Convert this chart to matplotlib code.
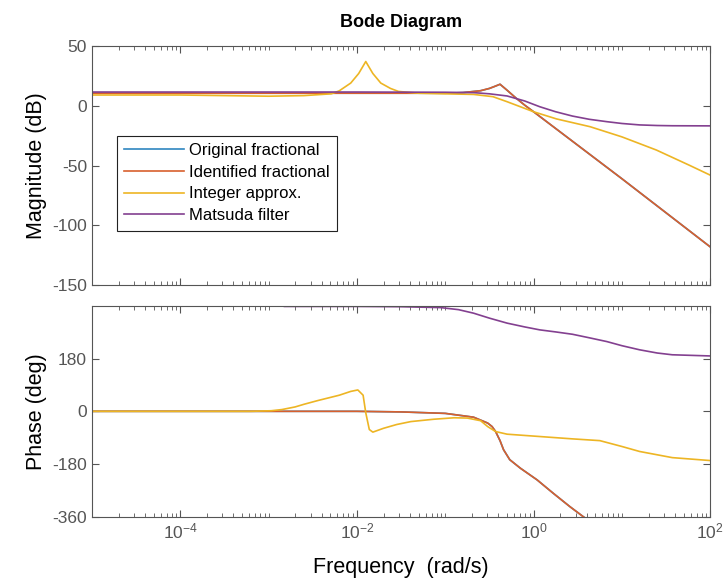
import numpy as np
import matplotlib
matplotlib.use("Agg")
from matplotlib import pyplot as plt
from matplotlib.ticker import LogLocator, NullFormatter, FixedLocator

plt.rcParams['font.family'] = ['Liberation Sans', 'DejaVu Sans']
plt.rcParams['mathtext.default'] = 'regular'
plt.rcParams['axes.unicode_minus'] = False

# frequency points as log10(rad/s), magnitude in dB, phase in deg
# original and identified fractional models lie on top of each other
frac_mag_w = [-5, -3, -2, -1, -0.8, -0.6, -0.5, -0.43, -0.38, -0.3, -0.2, -0.1, 0, 0.5, 1, 1.5, 2]
frac_mag = [10.5, 10.5, 10.5, 10.5, 11, 12.6, 14.5, 16.5, 18, 13, 6.5, 0.5, -5, -33, -61, -89.5, -118]

int_mag_w = [-5, -4, -3.5, -3, -2.6, -2.29, -2.2, -2.07, -1.98, -1.94, -1.9, -1.86, -1.82,
             -1.73, -1.62, -1.53, -1.3, -1.0, -0.68, -0.46, -0.3, 0, 0.26, 0.64, 1.0, 1.39, 1.76, 2.0]
int_mag = [9, 9, 8.5, 8, 8.5, 10, 12.5, 19, 27, 32, 37, 32, 27,
           19, 14.5, 12, 10.5, 10, 9.5, 7.6, 3.4, -5, -11, -17.5, -26, -37, -49.6, -58]

mats_mag_w = [-5, -2, -1, -0.68, -0.5, -0.3, -0.1, 0.07, 0.25, 0.44, 0.63, 0.83, 1.0, 1.2, 1.4, 1.57, 2]
mats_mag = [11.5, 11.5, 11.3, 11, 10, 8.2, 4, -0.8, -5, -8.6, -11.3, -13.3, -14.8, -16, -16.5, -16.7, -16.8]

frac_ph_w = [-5, -2, -1.5, -1, -0.68, -0.52, -0.47, -0.43, -0.38, -0.34, -0.27, -0.15,
             0.04, 0.22, 0.41, 0.56, 0.8, 2]
frac_ph = [0, 0, -2, -7, -20, -40, -52, -69, -100, -131, -165, -194,
           -234, -279, -325, -359, -410, -520]

int_ph_w = [-5, -3.2, -2.97, -2.85, -2.7, -2.6, -2.44, -2.2, -2.07, -1.99, -1.93, -1.9, -1.86, -1.82,
            -1.7, -1.55, -1.39, -1.13, -0.9, -0.75, -0.6, -0.52, -0.43, -0.3, 0.07, 0.44,
            0.75, 1.0, 1.2, 1.57, 2.0]
int_ph = [0, 0, 2, 6, 15, 24, 37, 55, 68, 73, 55, -5, -62, -71,
          -58, -45, -35, -27, -22, -23, -32, -52, -69, -78, -86, -94,
          -100, -120, -137, -158, -168]

mats_ph_w = [-2.82, -2, -1.5, -1.05, -0.85, -0.68, -0.5, -0.3, -0.1, 0.07, 0.25, 0.44, 0.63,
             0.83, 1.0, 1.2, 1.4, 1.57, 2.0]
mats_ph = [358, 358, 357, 354, 347, 335, 318, 301, 288, 278, 271, 263, 251,
           238, 224, 210, 199, 193, 189]

labels = ['Original fractional', 'Identified fractional', 'Integer approx.', 'Matsuda filter']
colors = ['#2f86c0', '#d8602e', '#edb524', '#834090']

mag_ticks = [-150, -100, -50, 0, 50]
ph_ticks = [-360, -180, 0, 180]


def w(exps):
    return 10.0 ** np.array(exps)


fig = plt.figure(figsize=(7.24, 5.82), dpi=100)
ax1 = fig.add_axes([0.127, 0.510, 0.854, 0.411])
ax2 = fig.add_axes([0.127, 0.112, 0.854, 0.3625])

lw = 1.2
ax1.semilogx(w(frac_mag_w), frac_mag, color=colors[0], lw=lw, label=labels[0])
ax1.semilogx(w(frac_mag_w), frac_mag, color=colors[1], lw=lw, label=labels[1])
ax1.semilogx(w(int_mag_w), int_mag, color=colors[2], lw=lw, label=labels[2])
ax1.semilogx(w(mats_mag_w), mats_mag, color=colors[3], lw=lw, label=labels[3])

ax2.semilogx(w(frac_ph_w), frac_ph, color=colors[0], lw=lw)
ax2.semilogx(w(frac_ph_w), frac_ph, color=colors[1], lw=lw)
ax2.semilogx(w(int_ph_w), int_ph, color=colors[2], lw=lw)
ax2.semilogx(w(mats_ph_w), mats_ph, color=colors[3], lw=lw)

ax1.set_ylim(-150, 50)
ax1.set_yticks(mag_ticks)
ax2.set_ylim(-360, 360)
ax2.set_yticks(ph_ticks)

for ax in (ax1, ax2):
    ax.set_xlim(1e-5, 1e2)
    ax.xaxis.set_major_locator(FixedLocator([1e-4, 1e-2, 1e0, 1e2]))
    ax.xaxis.set_minor_locator(LogLocator(base=10, subs=np.arange(1, 10), numticks=20))
    ax.xaxis.set_minor_formatter(NullFormatter())
    ax.tick_params(which='both', direction='in', top=True, right=True,
                   colors='#555555', labelsize=12.5)
    ax.tick_params(which='major', length=5, width=0.8)
    ax.tick_params(which='minor', length=3, width=0.6)
    for s in ax.spines.values():
        s.set_color('#555555')
        s.set_linewidth(0.8)

ax1.tick_params(labelbottom=False)
ax2.set_xticklabels(['$10^{-4}$', '$10^{-2}$', '$10^{0}$', '$10^{2}$'])

ax1.set_ylabel('Magnitude (dB)', fontsize=15.5, labelpad=4)
ax2.set_ylabel('Phase (deg)', fontsize=15.5, labelpad=4)
ax2.set_xlabel('Frequency  (rad/s)', fontsize=15.5, labelpad=11)
ax1.set_title('Bode Diagram', fontsize=13, fontweight='bold', pad=14)

leg = ax1.legend(loc='upper left', bbox_to_anchor=(0.027, 0.66), fontsize=12,
                 handlelength=3.6, handletextpad=0.25, borderpad=0.45,
                 labelspacing=0.4, fancybox=False, framealpha=1)
leg.get_frame().set_edgecolor('#222222')
leg.get_frame().set_linewidth(0.8)

plt.savefig('out.png', dpi=100)
